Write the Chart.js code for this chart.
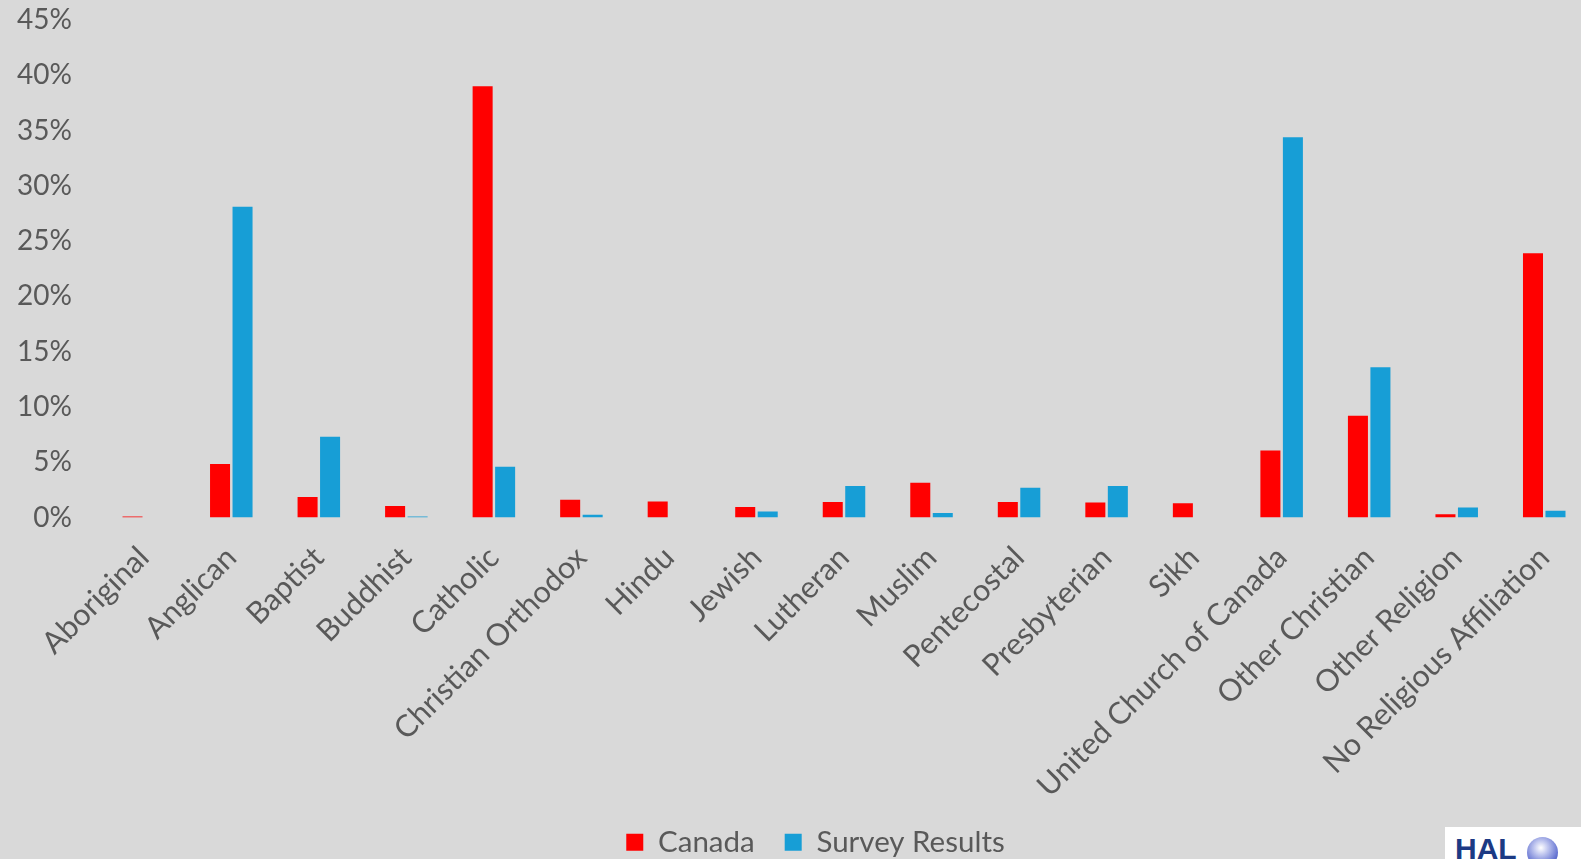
<!DOCTYPE html>
<html>
<head>
<meta charset="utf-8">
<script src="https://cdn.jsdelivr.net/npm/chart.js"></script>
<style>
    html, body { margin: 0; padding: 0; background: #d9d9d9; overflow: hidden; }
    #wrap { position: relative; width: 1581px; height: 859px; overflow: hidden; }
    #chart { position: absolute; left: 0; top: 0; }
    .logo { position: absolute; left: 1445px; top: 827px; width: 136px; height: 32px; background: #fff; overflow: hidden; }
    .logo span { position: absolute; left: 10px; top: 7px; font: bold 30px "Liberation Sans", Arial, sans-serif; line-height: 30px; color: #1c3a84; }
    .logo i { position: absolute; left: 82px; top: 10px; width: 31px; height: 31px; border-radius: 50%;
        background: radial-gradient(circle at 45% 35%, #ffffff 0%, #c3c9f0 25%, #6574d2 65%, #2c3a9a 100%); }
</style>
</head>
<body>
<div id="wrap">
    <canvas id="chart" width="1600" height="859"></canvas>
    <div class="logo"><span>HAL</span><i></i></div>
</div>
<script>
const categories = ['Aboriginal', 'Anglican', 'Baptist', 'Buddhist', 'Catholic', 'Christian Orthodox',
    'Hindu', 'Jewish', 'Lutheran', 'Muslim', 'Pentecostal', 'Presbyterian', 'Sikh',
    'United Church of Canada', 'Other Christian', 'Other Religion', 'No Religious Affiliation'];
const canada = [0.1, 4.85, 1.85, 1.05, 39.0, 1.6, 1.45, 0.95, 1.4, 3.15, 1.4, 1.35, 1.3, 6.05, 9.2, 0.3, 23.9];
const survey = [0, 28.1, 7.3, 0.1, 4.6, 0.25, 0, 0.55, 2.85, 0.4, 2.7, 2.85, 0, 34.4, 13.6, 0.9, 0.6];
const yTicks = [0, 5, 10, 15, 20, 25, 30, 35, 40, 45];

const textColor = '#595959';
const fontFamily = 'Lato, "DejaVu Sans", sans-serif';

// centre the legend under the reference position (it sits right of the canvas middle)
const shiftLegend = {
    id: 'shiftLegend',
    beforeDraw(chart) {
        if (chart.legend) chart.legend.left = 43;
    }
};

const ctx = document.getElementById('chart');
new Chart(ctx, {
    type: 'bar',
    data: {
        labels: categories,
        datasets: [
            { label: 'Canada', data: canada, backgroundColor: '#ff0000' },
            { label: 'Survey Results', data: survey, backgroundColor: '#179ed6' }
        ]
    },
    plugins: [shiftLegend],
    options: {
        responsive: false,
        animation: false,
        categoryPercentage: 0.514,
        barPercentage: 0.89,
        layout: { padding: { left: 0, right: 12, top: 0, bottom: -8 } },
        scales: {
            x: {
                grid: { display: false, drawTicks: false },
                border: { display: false },
                ticks: {
                    color: textColor,
                    font: { family: fontFamily, size: 30.5 },
                    maxRotation: 45,
                    minRotation: 45,
                    autoSkip: false,
                    padding: 22
                },
                afterFit: (scale) => { scale.height = 280; }
            },
            y: {
                min: 0,
                max: 45,
                grid: { display: false, drawTicks: false },
                border: { display: false },
                afterBuildTicks: (scale) => { scale.ticks = yTicks.map(v => ({ value: v })); },
                afterFit: (scale) => {
                    scale.width = 100;
                    scale.paddingTop = 20;
                    scale.paddingBottom = 20;
                },
                ticks: {
                    color: textColor,
                    font: { family: fontFamily, size: 28 },
                    padding: 28,
                    callback: (v) => v + '%'
                }
            }
        },
        plugins: {
            legend: {
                position: 'bottom',
                labels: {
                    color: textColor,
                    font: { family: fontFamily, size: 29.5, lineHeight: 1 },
                    boxWidth: 17,
                    boxHeight: 17,
                    padding: 30
                }
            },
            tooltip: { enabled: false }
        }
    }
});
</script>
</body>
</html>
